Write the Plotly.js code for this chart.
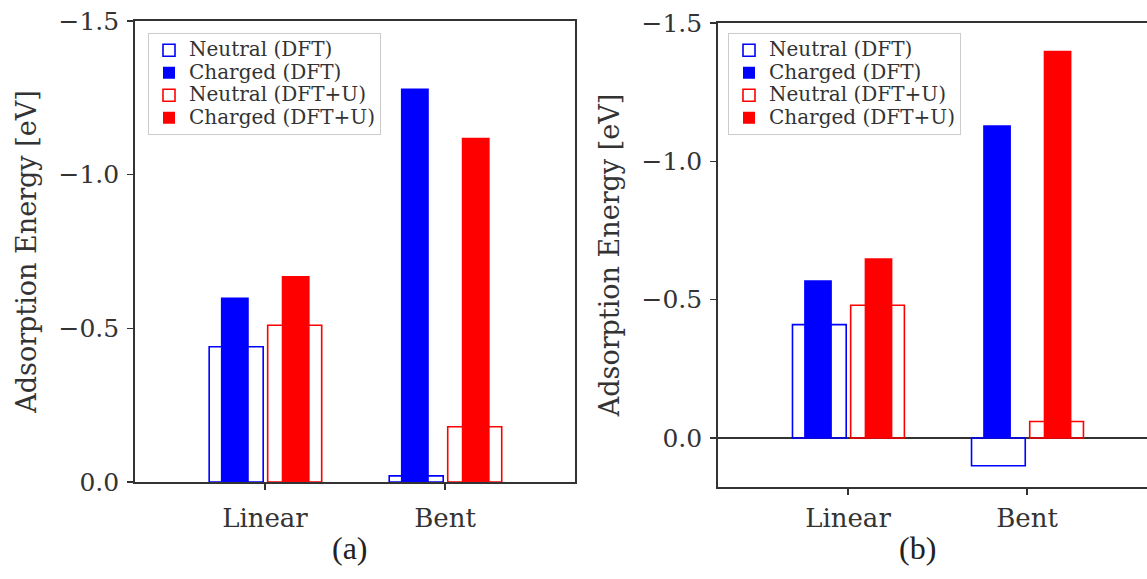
<!DOCTYPE html>
<html>
<head>
<meta charset="utf-8">
<script src="https://cdn.plot.ly/plotly-3.0.1.min.js"></script>
<style>html,body{margin:0;padding:0;background:#fff;}#chart{width:1147px;height:579px;}</style>
</head>
<body>
<div id="chart"></div>
<script>
// Data
const categories = ['Linear', 'Bent'];
const seriesNames = ['Neutral (DFT)', 'Charged (DFT)', 'Neutral (DFT+U)', 'Charged (DFT+U)'];
// panel (a)
const neutralDFT_a = [-0.44, -0.02];
const chargedDFT_a = [-0.60, -1.28];
const neutralU_a   = [-0.51, -0.18];
const chargedU_a   = [-0.67, -1.12];
// panel (b)
const neutralDFT_b = [-0.41, 0.10];
const chargedDFT_b = [-0.57, -1.13];
const neutralU_b   = [-0.48, -0.06];
const chargedU_b   = [-0.65, -1.40];
const yTickVals = [-1.5, -1.0, -0.5, 0.0];
const panelLabels = ['(a)', '(b)'];

const BLUE = '#0000ff', RED = '#ff0000';
const W = 1147, H = 579;

function legName(s) { return '<span style="font-size:20px">' + s + '</span>'; }

function makeTraces(vals, xa, ya, leg) {
  const [nD, cD, nU, cU] = vals;
  const common = {type: 'bar', x: categories, xaxis: xa, yaxis: ya, legend: leg, hoverinfo: 'skip'};
  return [
    Object.assign({}, common, {name: legName(seriesNames[0]), y: nD, width: 0.3, offset: -0.31,
      marker: {color: 'rgba(255,255,255,0)', line: {color: BLUE, width: 1.6}}}),
    Object.assign({}, common, {name: legName(seriesNames[1]), y: cD, width: 0.155, offset: -0.245,
      marker: {color: BLUE, line: {width: 0}}}),
    Object.assign({}, common, {name: legName(seriesNames[2]), y: nU, width: 0.3, offset: 0.015,
      marker: {color: 'rgba(255,255,255,0)', line: {color: RED, width: 1.6}}}),
    Object.assign({}, common, {name: legName(seriesNames[3]), y: cU, width: 0.155, offset: 0.093,
      marker: {color: RED, line: {width: 0}}})
  ];
}

const traces = [].concat(
  makeTraces([neutralDFT_a, chargedDFT_a, neutralU_a, chargedU_a], 'x', 'y', 'legend'),
  makeTraces([neutralDFT_b, chargedDFT_b, neutralU_b, chargedU_b], 'x2', 'y2', 'legend2')
);

const AX = '#333';
function xAxis(domain, range, anchor, standoff) {
  return {domain: domain, range: range, anchor: anchor, type: 'category',
    showline: true, mirror: true, linecolor: AX, linewidth: 1.8,
    ticks: 'outside', ticklen: 6, tickwidth: 1.5, tickcolor: AX,
    ticklabelstandoff: standoff,
    tickfont: {family: 'DejaVu Serif', size: 26, color: '#333'},
    showgrid: false, zeroline: false, fixedrange: true};
}
function yAxis(domain, range, anchor, mirror, zero) {
  return {domain: domain, range: range, anchor: anchor,
    tickvals: yTickVals, tickformat: '.1f',
    showline: true, mirror: mirror, linecolor: AX, linewidth: 1.8,
    ticks: 'outside', ticklen: 6, tickwidth: 1.5, tickcolor: AX,
    ticklabelstandoff: 3,
    tickfont: {family: 'DejaVu Serif', size: 25, color: '#333'}, showgrid: false,
    zeroline: zero, zerolinecolor: AX, zerolinewidth: 1.5,
    title: {text: 'Adsorption Energy [eV]', font: {family: 'DejaVu Serif', size: 27, color: '#333'}, standoff: 14},
    fixedrange: true};
}
function legend(xpx) {
  return {x: xpx / W, y: 1 - 33 / H, xanchor: 'left', yanchor: 'top',
    font: {family: 'DejaVu Serif', size: 15, color: '#333'},
    bgcolor: 'rgba(255,255,255,0.85)', bordercolor: '#cccccc', borderwidth: 1,
    tracegroupgap: 0, itemclick: false, itemdoubleclick: false};
}

const layout = {
  width: W, height: H,
  margin: {l: 0, r: 0, t: 0, b: 0},
  paper_bgcolor: '#fff', plot_bgcolor: '#fff',
  barmode: 'overlay', showlegend: true,
  font: {family: 'DejaVu Serif', color: '#333'},
  xaxis: xAxis([135 / W, 575 / W], [-0.722, 1.722], 'y', 6),
  yaxis: yAxis([(H - 482) / H, (H - 21) / H], [0, -1.5], 'x', true, false),
  xaxis2: xAxis([718 / W, 1], [-0.726, 1.670], 'y2', 1),
  yaxis2: yAxis([(H - 487) / H, (H - 23) / H], [0.177, -1.5], 'x2', false, true),
  legend: legend(148),
  legend2: legend(728),
  annotations: [
    {text: panelLabels[0], xref: 'paper', yref: 'paper', x: 350 / W, y: 1 - 548 / H,
     xanchor: 'center', yanchor: 'middle',
     showarrow: false, font: {family: 'Liberation Serif', size: 32, color: '#222'}},
    {text: panelLabels[1], xref: 'paper', yref: 'paper', x: 917 / W, y: 1 - 548 / H,
     xanchor: 'center', yanchor: 'middle',
     showarrow: false, font: {family: 'Liberation Serif', size: 32, color: '#222'}}
  ]
};

Plotly.newPlot('chart', traces, layout, {staticPlot: true, displayModeBar: false});
</script>
</body>
</html>
